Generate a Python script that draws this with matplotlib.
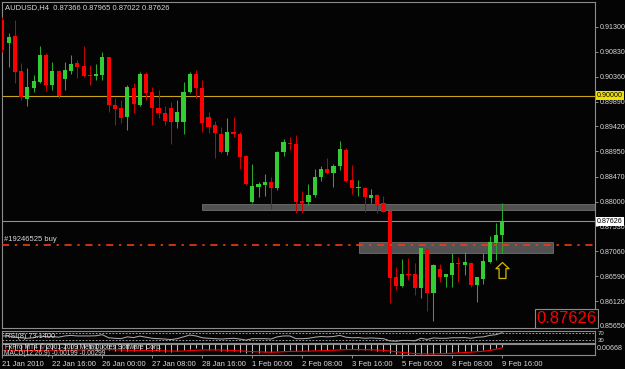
import numpy as np
import matplotlib.pyplot as plt
from matplotlib.path import Path
from matplotlib.patches import Rectangle
from matplotlib.transforms import blended_transform_factory

plt.rcParams['font.family'] = ['Liberation Sans', 'DejaVu Sans']

# AUDUSD H4 bars, 21 Jan 2010 08:00 .. 9 Feb 2010 16:00
opens = [0.91432, 0.90997, 0.91130, 0.90469, 0.89939, 0.90147, 0.90261, 0.90771, 0.90204, 0.90469,
         0.90317, 0.90469, 0.90620, 0.90563, 0.90393, 0.90374, 0.90393, 0.90733, 0.89826, 0.89769,
         0.89599, 0.90147, 0.89826, 0.90412, 0.90072, 0.89769, 0.89675, 0.89769, 0.89504, 0.89504,
         0.90072, 0.90412, 0.90147, 0.89599, 0.89448, 0.89277, 0.88937, 0.89315, 0.89277, 0.88862,
         0.87992, 0.88276, 0.88314, 0.88370, 0.88257, 0.88937, 0.89107, 0.89088, 0.88011, 0.87992,
         0.88125, 0.88465, 0.88616, 0.88540, 0.88673, 0.88975, 0.88408, 0.88257, 0.88257, 0.88068,
         0.88125, 0.87973, 0.87822, 0.86574, 0.86405, 0.86631, 0.86631, 0.86367, 0.87104, 0.86273,
         0.86726, 0.86574, 0.86612, 0.86839, 0.86801, 0.86839, 0.86423, 0.86537, 0.86858, 0.87217,
         0.87366]
highs = [0.91489, 0.91186, 0.91432, 0.90620, 0.90525, 0.90393, 0.90941, 0.90808, 0.90639, 0.90487,
         0.90639, 0.90771, 0.90676, 0.90941, 0.90582, 0.90601, 0.90827, 0.90733, 0.89958, 0.89920,
         0.90204, 0.90242, 0.90450, 0.90450, 0.90166, 0.90110, 0.89807, 0.89883, 0.89920, 0.90261,
         0.90450, 0.90487, 0.90298, 0.89694, 0.89523, 0.89410, 0.89580, 0.89599, 0.89315, 0.88880,
         0.88710, 0.88370, 0.88521, 0.88465, 0.88956, 0.89183, 0.89221, 0.89259, 0.88200, 0.88332,
         0.88616, 0.88673, 0.88824, 0.88710, 0.89145, 0.89013, 0.88692, 0.88408, 0.88257, 0.88238,
         0.88144, 0.88106, 0.87841, 0.86764, 0.86915, 0.86934, 0.86839, 0.87130, 0.87123, 0.86820,
         0.86820, 0.86631, 0.87028, 0.86953, 0.87047, 0.86858, 0.86574, 0.87028, 0.87349, 0.87595,
         0.87965]
lows = [0.90827, 0.90544, 0.90242, 0.89920, 0.89807, 0.90072, 0.90242, 0.90091, 0.90110, 0.89958,
        0.90110, 0.90412, 0.90336, 0.90355, 0.90204, 0.90298, 0.90298, 0.89694, 0.89448, 0.89485,
        0.89353, 0.89675, 0.89807, 0.89920, 0.89448, 0.89580, 0.89448, 0.89088, 0.89391, 0.89277,
        0.90053, 0.89958, 0.89315, 0.89296, 0.88824, 0.88918, 0.88880, 0.89221, 0.88616, 0.88314,
        0.87973, 0.88087, 0.88106, 0.87860, 0.88219, 0.88862, 0.88975, 0.87784, 0.87784, 0.87936,
        0.88087, 0.88389, 0.88521, 0.88276, 0.88597, 0.88370, 0.88144, 0.88106, 0.87803, 0.87973,
        0.87784, 0.87803, 0.86083, 0.86329, 0.86386, 0.86518, 0.86235, 0.86178, 0.85932, 0.85743,
        0.86480, 0.86386, 0.86386, 0.86480, 0.86612, 0.86386, 0.86102, 0.86442, 0.86839, 0.86896,
        0.87022]
closes = [0.90865, 0.91111, 0.90450, 0.89977, 0.90166, 0.90279, 0.90771, 0.90204, 0.90469, 0.89996,
          0.90487, 0.90601, 0.90544, 0.90374, 0.90374, 0.90412, 0.90733, 0.89826, 0.89750, 0.89580,
          0.90166, 0.89845, 0.90412, 0.90053, 0.89769, 0.89675, 0.89523, 0.89504, 0.89694, 0.90072,
          0.90412, 0.90147, 0.89485, 0.89410, 0.89296, 0.88937, 0.89315, 0.89277, 0.88843, 0.88332,
          0.88295, 0.88332, 0.88370, 0.88257, 0.88937, 0.89126, 0.89088, 0.87992, 0.87980, 0.88125,
          0.88465, 0.88616, 0.88540, 0.88673, 0.88994, 0.88389, 0.88257, 0.88276, 0.88087, 0.88125,
          0.87936, 0.87810, 0.86555, 0.86405, 0.86631, 0.86612, 0.86367, 0.87123, 0.86273, 0.86801,
          0.86574, 0.86631, 0.86839, 0.86820, 0.86858, 0.86423, 0.86574, 0.86877, 0.87236, 0.87368,
          0.87626]

rsi = [55, 55, 48, 45, 42, 45, 55, 50, 52, 48,
       55, 58, 55, 55, 55, 56, 62, 45, 42, 40,
       50, 46, 54, 48, 42, 40, 38, 35, 40, 50,
       60, 55, 45, 42, 40, 38, 40, 42, 38, 32,
       40, 40, 40, 38, 50, 55, 55, 40, 40, 42,
       48, 52, 50, 52, 58, 48, 45, 46, 42, 44,
       42, 40, 28, 26, 30, 30, 28, 42, 36, 44,
       42, 42, 45, 45, 46, 42, 48, 50, 58, 62,
       73.14]
macd_main = [-0.0040, -0.0045, -0.0050, -0.0055, -0.0055, -0.0050, -0.0045, -0.0045, -0.0045, -0.0050,
             -0.0045, -0.0040, -0.0040, -0.0040, -0.0040, -0.0040, -0.0035, -0.0045, -0.0055, -0.0060,
             -0.0055, -0.0055, -0.0050, -0.0050, -0.0055, -0.0060, -0.0065, -0.0065, -0.0060, -0.0050,
             -0.0040, -0.0035, -0.0040, -0.0045, -0.0050, -0.0055, -0.0055, -0.0060, -0.0065, -0.0070,
             -0.0070, -0.0070, -0.0068, -0.0068, -0.0060, -0.0055, -0.0050, -0.0055, -0.0058, -0.0055,
             -0.0050, -0.0045, -0.0045, -0.0042, -0.0038, -0.0040, -0.0042, -0.0044, -0.0048, -0.0050,
             -0.0055, -0.0060, -0.0075, -0.0085, -0.0090, -0.0090, -0.0090, -0.0085, -0.0085, -0.0080,
             -0.0075, -0.0070, -0.0068, -0.0065, -0.0060, -0.0058, -0.0055, -0.0050, -0.0040, -0.0030,
             -0.00199]
macd_signal = [-0.0050, -0.0050, -0.0050, -0.0051, -0.0052, -0.0052, -0.0051, -0.0050, -0.0050, -0.0050,
               -0.0050, -0.0049, -0.0048, -0.0047, -0.0046, -0.0045, -0.0044, -0.0044, -0.0046, -0.0048,
               -0.0050, -0.0051, -0.0051, -0.0051, -0.0052, -0.0053, -0.0055, -0.0056, -0.0057, -0.0056,
               -0.0053, -0.0050, -0.0048, -0.0047, -0.0047, -0.0048, -0.0050, -0.0052, -0.0055, -0.0058,
               -0.0061, -0.0063, -0.0065, -0.0066, -0.0065, -0.0062, -0.0060, -0.0058, -0.0058, -0.0057,
               -0.0056, -0.0054, -0.0052, -0.0050, -0.0047, -0.0045, -0.0044, -0.0044, -0.0045, -0.0046,
               -0.0048, -0.0051, -0.0056, -0.0062, -0.0068, -0.0073, -0.0077, -0.0079, -0.0080, -0.0080,
               -0.0079, -0.0077, -0.0075, -0.0072, -0.0069, -0.0066, -0.0062, -0.0058, -0.0052, -0.0042,
               -0.00299]

price_ticks = [0.91300, 0.90830, 0.90360, 0.89890, 0.89420, 0.88950, 0.88470,
               0.88000, 0.87530, 0.87060, 0.86590, 0.86120, 0.85650]
time_idx = [0, 8, 16, 24, 32, 40, 48, 56, 64, 72, 80]
time_labels = ['21 Jan 2010', '22 Jan 16:00', '26 Jan 00:00', '27 Jan 08:00', '28 Jan 16:00',
               '1 Feb 00:00', '2 Feb 08:00', '3 Feb 16:00', '5 Feb 00:00', '8 Feb 08:00', '9 Feb 16:00']

level_price = 0.90000
bid_price = 0.87626
order_price = 0.87175
order_label = '#19246525 buy'
zone1_start, zone1_low, zone1_high = 32, 0.87842, 0.87955
zone2_start, zone2_end, zone2_low, zone2_high = 57.1, 88.2, 0.87024, 0.87243
arrow_bar, arrow_price = 80, 0.86706

W, H = 625, 369
def fx(x):
    return x / W
def fy(y):
    return 1 - y / H

BG = '#040404'
GRID = '#8c8c8c'
TXT = '#d8d8d8'
XMAX = 94.85

fig = plt.figure(figsize=(W / 100, H / 100), dpi=100, facecolor=BG)

# main price panel
ax = fig.add_axes([fx(2), fy(328), fx(595) - fx(2), fy(2) - fy(328)], facecolor=BG)
ax.set_xlim(-0.05, XMAX)
ax.set_ylim(0.85612, 0.91772)

o = np.array(opens); h = np.array(highs); l = np.array(lows); c = np.array(closes)
x = np.arange(len(o))
up = c >= o
body_col = np.where(up, '#32cd32', '#ff0000')
wick_col = np.where(up, '#2aa82a', '#c80000')

# zones (drawn under the candles)
ax.add_patch(Rectangle((zone1_start, zone1_low), XMAX - zone1_start, zone1_high - zone1_low,
                       fc='#525252', ec='#6e6e6e', lw=0.6, zorder=1))
ax.add_patch(Rectangle((zone2_start, zone2_low), zone2_end - zone2_start, zone2_high - zone2_low,
                       fc='#525252', ec='#6e6e6e', lw=0.6, zorder=1))

ax.axhline(level_price, color='#c8a418', lw=0.8, zorder=2)
ax.axhline(bid_price, color='#8494a8', lw=0.8, zorder=2)

ax.vlines(x, l, h, colors=wick_col, lw=0.75, zorder=3)
ax.bar(x, np.maximum(np.abs(c - o), 0.00019), bottom=np.minimum(o, c), width=0.65,
       color=body_col, linewidth=0, zorder=4)

ax.axhline(order_price, color='#f03a18', lw=1.2, ls=(0, (4.3, 3.4, 1.4, 3.4)), zorder=5)
ax.text(2.5 / 593, order_price + 0.0004, order_label, transform=blended_transform_factory(ax.transAxes, ax.transData),
        fontsize=5.5, color=TXT, ha='left', va='bottom')

# hollow up arrow
arrow = Path([(0, 1), (0.82, 0.23), (0.43, 0.23), (0.43, -1), (-0.43, -1), (-0.43, 0.23), (-0.82, 0.23), (0, 1)],
             [Path.MOVETO] + [Path.LINETO] * 6 + [Path.CLOSEPOLY])
ax.plot([arrow_bar], [arrow_price], marker=arrow, ms=11.5, mfc='none', mec='#d4b800', mew=0.9, zorder=6)

ax.yaxis.tick_right()
ax.set_yticks(price_ticks)
ax.set_yticklabels(['%.5f' % v for v in price_ticks])
ax.tick_params(axis='y', colors=GRID, labelcolor=TXT, labelsize=5.1, length=2.2, width=0.7, pad=1.0)
ax.tick_params(axis='x', bottom=False, labelbottom=False)
for s in ax.spines.values():
    s.set_color(GRID)
    s.set_linewidth(0.8)

trans = blended_transform_factory(ax.transAxes, ax.transData)
ax.text(1.0 + 2 / 593, level_price, '%.5f' % level_price, transform=trans, ha='left', va='center',
        fontsize=5.1, color='black', zorder=8, clip_on=False,
        bbox=dict(boxstyle='square,pad=0.15', fc='#f0e000', ec='none'))
ax.text(1.0 + 2 / 593, bid_price, '%.5f' % bid_price, transform=trans, ha='left', va='center',
        fontsize=5.1, color='black', zorder=8, clip_on=False,
        bbox=dict(boxstyle='square,pad=0.15', fc='white', ec='none'))

fig.text(fx(5), fy(8), 'AUDUSD,H4  %.5f %.5f %.5f %.5f' % (opens[-1], highs[-1], lows[-1], closes[-1]),
         fontsize=5.5, color=TXT, ha='left', va='center')
fig.text(fx(566.5), fy(318.5), '%.5f' % bid_price, fontsize=12, color='#ff0000', ha='center', va='center',
         bbox=dict(boxstyle='square,pad=0.1', fc=BG, ec='#8c8c8c', lw=0.8))

# RSI panel
ra = fig.add_axes([fx(2), fy(343), fx(595) - fx(2), fy(330.7) - fy(343)], facecolor=BG)
ra.set_xlim(-0.05, XMAX)
ra.set_ylim(16, 84)
ra.axhline(70, color='#c0c0c0', lw=0.6, ls=(0, (2, 2)))
ra.axhline(30, color='#c0c0c0', lw=0.6, ls=(0, (2, 2)))
ra.plot(x, rsi, color='#a8a8a8', lw=0.75)
ra.set_xticks([]); ra.set_yticks([])
for s in ra.spines.values():
    s.set_color(GRID)
    s.set_linewidth(0.8)
ra.text(3 / 593, 0.5, 'RSI(8) %.4f' % rsi[-1], transform=ra.transAxes, fontsize=5.3, color=TXT, ha='left', va='center')
fig.text(fx(598), fy(333.3), '70', fontsize=4.3, color=TXT, ha='left', va='center')
fig.text(fx(598), fy(340.2), '30', fontsize=4.3, color=TXT, ha='left', va='center')

# MACD panel
ma = fig.add_axes([fx(2), fy(355.3), fx(595) - fx(2), fy(344.3) - fy(355.3)], facecolor=BG)
ma.set_xlim(-0.05, XMAX)
ma.set_ylim(-0.0092, 0.0)
ma.vlines(x, 0, macd_main, colors='#c0c0c0', lw=0.75)
ma.plot(x, macd_signal, color='#ff0000', lw=0.8)
ma.set_yticks([])
ma.set_xticks(time_idx)
ma.set_xticklabels(time_labels, ha='left')
ma.tick_params(axis='x', colors=GRID, labelcolor=TXT, labelsize=5.5, length=2.5, width=0.7, pad=1.5)
for s in ma.spines.values():
    s.set_color(GRID)
    s.set_linewidth(0.8)
ma.text(2 / 593, 0.18, 'MACD(12,26,9) %.5f %.5f' % (macd_main[-1], macd_signal[-1]), transform=ma.transAxes,
        fontsize=4.8, color=TXT, ha='left', va='center')
ma.text(3 / 593, 0.75, 'FxPro MT4 \u00a9 2001-2009 MetaQuotes Software Corp.', transform=ma.transAxes,
        fontsize=4.8, color=TXT, ha='left', va='center')
fig.text(fx(597), fy(349), '0.00668', fontsize=5.1, color=TXT, ha='left', va='center')

fig.savefig('out.png', dpi=100, facecolor=BG)
